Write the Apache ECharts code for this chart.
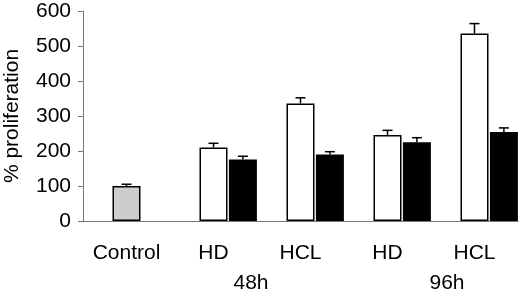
<!DOCTYPE html>
<html>
<head>
<meta charset="utf-8">
<script src="https://cdn.jsdelivr.net/npm/echarts@6/dist/echarts.min.js"></script>
<style>
  html, body { margin: 0; padding: 0; background: #fff; }
  #chart { width: 520px; height: 297px; }
</style>
</head>
<body>
<div id="chart"></div>
<script>
const categories = ["Control", "HD", "HCL", "HD", "HCL"];
const timeLabels = ["48h", "96h"];
const yTicks = [0, 100, 200, 300, 400, 500, 600];

const controlValues = [100, null, null, null, null];
const controlErrors = [5, null, null, null, null];
const openValues = [null, 210, 336, 246, 536];
const openErrors = [null, 12, 16, 13, 28];
const filledValues = [null, 176, 190, 225, 254];
const filledErrors = [null, 9, 8, 13, 12];

const FONT = "Liberation Sans";
const BAR_W = 28;
const BAR_GAP = 0.05;

const chart = echarts.init(document.getElementById("chart"));

// control bar shares the slot with the open bars
const mainData = openValues.map((v, i) =>
  controlValues[i] != null
    ? { value: controlValues[i], itemStyle: { color: "#cdcdcd" } }
    : v
);

function errData(values, errors) {
  const out = [];
  values.forEach((v, i) => {
    if (v != null) out.push([i, v, errors[i]]);
  });
  return out;
}

function errSeries(data, shift) {
  return {
    type: "custom",
    data: data,
    encode: { x: 0, y: 1 },
    z: 5,
    renderItem: (params, api) => {
      const base = api.coord([api.value(0), api.value(1)]);
      const top = api.coord([api.value(0), api.value(1) + api.value(2)]);
      const x = base[0] + shift;
      const style = { stroke: "#000", lineWidth: 1.5 };
      return {
        type: "group",
        children: [
          { type: "line", shape: { x1: x, y1: base[1], x2: x, y2: top[1] }, style: style },
          { type: "line", shape: { x1: x - 5, y1: top[1], x2: x + 5, y2: top[1] }, style: style },
        ],
      };
    },
  };
}

const controlErr = errData(controlValues, controlErrors);
const openErr = errData(openValues, openErrors);
const filledErr = errData(filledValues, filledErrors);

const option = {
  animation: false,
  textStyle: { fontFamily: FONT },
  grid: { left: 83, right: 2, top: 11, bottom: 76, containLabel: false, outerBoundsMode: "none" },
  xAxis: {
    type: "category",
    data: categories,
    axisLine: { lineStyle: { color: "#777", width: 1 } },
    axisTick: { show: false },
    axisLabel: { color: "#000", fontSize: 21, fontFamily: FONT, margin: 22, interval: 0 },
  },
  yAxis: {
    type: "value",
    min: yTicks[0],
    max: yTicks[yTicks.length - 1],
    interval: yTicks[1] - yTicks[0],
    name: "% proliferation",
    nameLocation: "middle",
    nameGap: 60,
    nameTextStyle: { color: "#000", fontSize: 21, fontFamily: FONT },
    axisLine: { show: true, lineStyle: { color: "#777", width: 1 } },
    axisTick: { show: true, inside: false, length: 5, lineStyle: { color: "#777" } },
    axisLabel: { color: "#000", fontSize: 21, fontFamily: FONT, margin: 12 },
    splitLine: { show: false },
  },
  graphic: [
    { type: "text", x: 251, y: 283, style: { text: timeLabels[0], font: "21px " + FONT, fill: "#000", textAlign: "center", textVerticalAlign: "middle" } },
    { type: "text", x: 447, y: 283, style: { text: timeLabels[1], font: "21px " + FONT, fill: "#000", textAlign: "center", textVerticalAlign: "middle" } },
  ],
  series: [
    // empty slot so the open bar sits on the category centre
    { type: "bar", data: categories.map(() => null), barWidth: BAR_W, barGap: BAR_GAP * 100 + "%" },
    {
      type: "bar",
      data: mainData,
      barWidth: BAR_W,
      barGap: BAR_GAP * 100 + "%",
      itemStyle: { color: "#fff", borderColor: "#000", borderWidth: 1.5 },
    },
    {
      type: "bar",
      data: filledValues,
      barWidth: BAR_W,
      barGap: BAR_GAP * 100 + "%",
      itemStyle: { color: "#000" },
    },
    errSeries(controlErr, 0),
    errSeries(openErr, 0),
    errSeries(filledErr, BAR_W * (1 + BAR_GAP)),
  ],
};

chart.setOption(option);
</script>
</body>
</html>
